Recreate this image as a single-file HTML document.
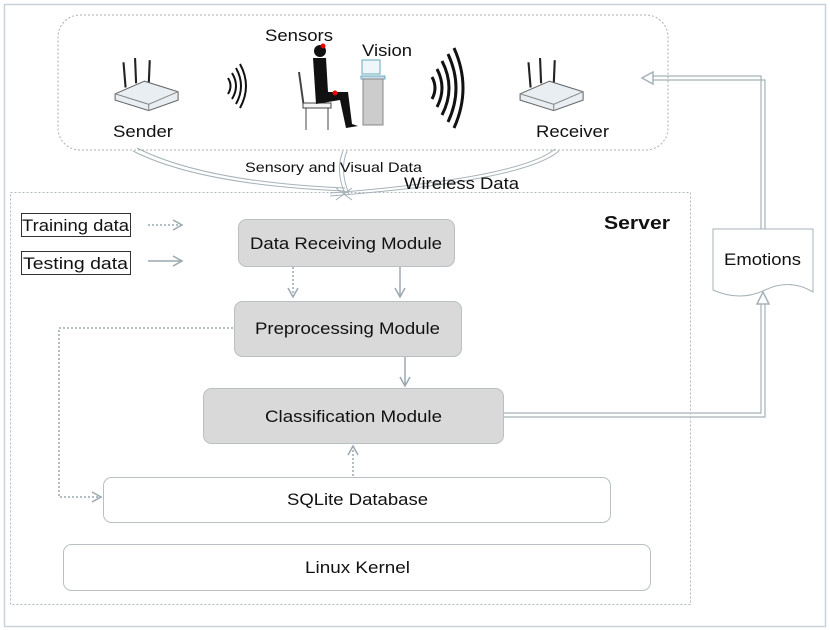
<!DOCTYPE html>
<html><head><meta charset="utf-8"><style>
html,body{margin:0;padding:0;background:#fff;}
svg{display:block;}
text{font-family:"Liberation Sans",sans-serif;fill:#111;}
</style></head><body>
<svg width="830" height="630" viewBox="0 0 830 630" xmlns="http://www.w3.org/2000/svg">
<defs>
<marker id="op" markerWidth="12" markerHeight="12" refX="10" refY="6" orient="auto" markerUnits="userSpaceOnUse">
<path d="M1,1 L10,6 L1,11" fill="none" stroke="#9aa8b0" stroke-width="1.5"/></marker>
</defs>
<rect x="4.5" y="4.5" width="821" height="622" fill="none" stroke="#c8d4da" stroke-width="1.5"/>
<rect x="58" y="15" width="610" height="135" rx="22" fill="none" stroke="#a8b0b4" stroke-dasharray="2,2"/>
<rect x="10.5" y="192.5" width="680" height="412" fill="none" stroke="#b0b8bc" stroke-dasharray="2,2"/>

<g transform="translate(113,56) scale(1.05)">
<line x1="12" y1="30" x2="10" y2="6" stroke="#222" stroke-width="2"/>
<line x1="22" y1="26" x2="21" y2="2" stroke="#222" stroke-width="2"/>
<line x1="34" y1="28" x2="35" y2="4" stroke="#222" stroke-width="2"/>
<path d="M2,36 L30,24 L62,34 L62,42 L34,52 L2,42 Z" fill="#e8eef2" stroke="#666"/>
<path d="M2,36 L34,46 L62,34" fill="none" stroke="#888"/>
<line x1="34" y1="46" x2="34" y2="52" stroke="#888"/>
</g>
<g transform="translate(518,56) scale(1.05)">
<line x1="12" y1="30" x2="10" y2="6" stroke="#222" stroke-width="2"/>
<line x1="22" y1="26" x2="21" y2="2" stroke="#222" stroke-width="2"/>
<line x1="34" y1="28" x2="35" y2="4" stroke="#222" stroke-width="2"/>
<path d="M2,36 L30,24 L62,34 L62,42 L34,52 L2,42 Z" fill="#e8eef2" stroke="#666"/>
<path d="M2,36 L34,46 L62,34" fill="none" stroke="#888"/>
<line x1="34" y1="46" x2="34" y2="52" stroke="#888"/>
</g>
<g fill="none" stroke="#111" stroke-width="2">
<path d="M228,78 Q233,86 228,94"/><path d="M232,73 Q240,86 232,99"/><path d="M236,68 Q246,86 236,104"/><path d="M240,64 Q252,86 240,108"/>
</g>
<g fill="none" stroke="#111" stroke-width="3">
<path d="M432,77 Q438,88 432,99"/><path d="M437,69 Q447,88 437,107"/><path d="M442,61 Q456,88 442,115"/><path d="M448,54 Q464,88 448,122"/><path d="M454,48 Q472,88 454,128"/>
</g>
<g stroke="#444" fill="#f4f4f4">
<path d="M299,72 L304,108" stroke-width="2"/>
<rect x="303" y="103" width="28" height="5"/>
<line x1="306" y1="108" x2="306" y2="130"/><line x1="328" y1="108" x2="328" y2="130"/>
</g>
<g fill="#111">
<circle cx="320" cy="51" r="6"/>
<path d="M313,58 L326,58 L328,92 L348,92 L352,124 L358,126 L346,128 L340,100 L316,104 Z"/>
</g>
<circle cx="323" cy="46" r="2.5" fill="#e00"/>
<circle cx="335" cy="93" r="2.5" fill="#e00"/>
<rect x="362" y="60" width="18" height="14" fill="#eef6fa" stroke="#6ab"/>
<rect x="361" y="76" width="24" height="3" fill="#cde" stroke="#6ab"/>
<rect x="363" y="79" width="20" height="46" fill="#ccc" stroke="#888"/>
<text x="265" y="41" font-size="17" textLength="68" lengthAdjust="spacingAndGlyphs">Sensors</text>
<text x="362" y="56" font-size="17" textLength="50" lengthAdjust="spacingAndGlyphs">Vision</text>
<text x="113" y="137" font-size="17" textLength="60" lengthAdjust="spacingAndGlyphs">Sender</text>
<text x="536" y="137" font-size="17" textLength="73" lengthAdjust="spacingAndGlyphs">Receiver</text>

<g fill="none" stroke="#a6b2b8" stroke-width="1">
<path d="M133,151 Q200,185 345,191"/><path d="M137,148 Q204,182 345,188"/>
<path d="M555,149 Q520,178 330,193"/><path d="M559,151 Q524,181 330,196"/>
<path d="M343,151 Q335,170 345,194"/><path d="M347,151 Q339,170 349,194"/>
<path d="M336,188 L352,200 M352,188 L336,200"/>
</g>
<text x="245" y="172" font-size="14" textLength="177" lengthAdjust="spacingAndGlyphs">Sensory and Visual Data</text>
<text x="404" y="189" font-size="17" textLength="115" lengthAdjust="spacingAndGlyphs">Wireless Data</text>

<rect x="21.5" y="213.5" width="109" height="23" fill="#fff" stroke="#333"/>
<text x="22" y="231" font-size="17" textLength="107" lengthAdjust="spacingAndGlyphs">Training data</text>
<rect x="21.5" y="251.5" width="109" height="23" fill="#fff" stroke="#333"/>
<text x="23" y="269" font-size="17" textLength="105" lengthAdjust="spacingAndGlyphs">Testing data</text>
<line x1="148" y1="225" x2="182" y2="225" stroke="#9aa8b0" stroke-width="1.5" stroke-dasharray="2,2" marker-end="url(#op)"/>
<line x1="148" y1="261" x2="182" y2="261" stroke="#9aa8b0" stroke-width="1.5" marker-end="url(#op)"/>
<text x="604" y="229" font-size="18" font-weight="bold" textLength="66" lengthAdjust="spacingAndGlyphs">Server</text>

<rect x="238.5" y="219.5" width="216" height="47" rx="8" fill="#d9d9d9" stroke="#b8c0c4"/>
<text x="250" y="249" font-size="17" textLength="192" lengthAdjust="spacingAndGlyphs">Data Receiving Module</text>
<rect x="234.5" y="301.5" width="227" height="55" rx="8" fill="#d9d9d9" stroke="#b8c0c4"/>
<text x="255" y="334" font-size="17" textLength="185" lengthAdjust="spacingAndGlyphs">Preprocessing Module</text>
<rect x="203.5" y="388.5" width="300" height="55" rx="8" fill="#d9d9d9" stroke="#b8c0c4"/>
<text x="265" y="422" font-size="17" textLength="177" lengthAdjust="spacingAndGlyphs">Classification Module</text>
<rect x="103.5" y="477.5" width="507" height="45" rx="8" fill="#fff" stroke="#b8c0c4"/>
<text x="287" y="505" font-size="17" textLength="141" lengthAdjust="spacingAndGlyphs">SQLite Database</text>
<rect x="63.5" y="544.5" width="587" height="46" rx="8" fill="#fff" stroke="#b8c0c4"/>
<text x="305" y="573" font-size="17" textLength="105" lengthAdjust="spacingAndGlyphs">Linux Kernel</text>

<line x1="293" y1="267" x2="293" y2="297" stroke="#9aa8b0" stroke-width="1.5" stroke-dasharray="2,2" marker-end="url(#op)"/>
<line x1="400" y1="267" x2="400" y2="297" stroke="#9aa8b0" stroke-width="1.5" marker-end="url(#op)"/>
<line x1="405" y1="357" x2="405" y2="386" stroke="#9aa8b0" stroke-width="1.5" marker-end="url(#op)"/>
<line x1="353" y1="476" x2="353" y2="446" stroke="#9aa8b0" stroke-width="1.5" stroke-dasharray="2,2" marker-end="url(#op)"/>
<path d="M233,328 L59,328 L59,497 L101,497" fill="none" stroke="#9aa8b0" stroke-width="1.5" stroke-dasharray="2,2" marker-end="url(#op)"/>

<g fill="none" stroke="#a6b2b8" stroke-width="1.2">
<path d="M504,413 L761,413 L761,304"/><path d="M504,417 L765,417 L765,304"/>
<path d="M761,229 L761,76 L652,76"/><path d="M765,229 L765,80 L652,80"/>
</g>
<path d="M757,304 L763,292 L769,304 Z" fill="#fff" stroke="#a6b2b8" stroke-width="1.5"/>
<path d="M653,72 L642,78 L653,84 Z" fill="#fff" stroke="#a6b2b8" stroke-width="1.5"/>
<path d="M713,229 L813,229 L813,292 Q790,278 765,290 Q740,302 713,290 Z" fill="#fff" stroke="#a6b2b8"/>
<text x="724" y="265" font-size="17" textLength="77" lengthAdjust="spacingAndGlyphs">Emotions</text>
</svg>
</body></html>
